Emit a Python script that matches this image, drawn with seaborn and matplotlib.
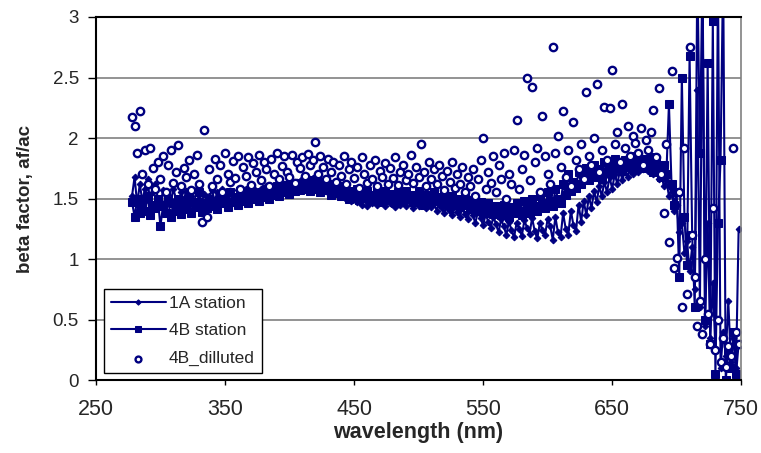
import numpy as np
import pandas as pd
import matplotlib
matplotlib.use("Agg")
import matplotlib.pyplot as plt
import seaborn as sns

# ---- data ----
wavelength = list(range(278, 750, 2))

station_1A = [
    1.52, 1.68, 1.45, 1.62, 1.48, 1.58, 1.66, 1.47, 1.55, 1.62,
    1.50, 1.44, 1.57, 1.48, 1.53, 1.46, 1.58, 1.50, 1.45, 1.55,
    1.49, 1.56, 1.47, 1.52, 1.44, 1.58, 1.50, 1.47, 1.54, 1.46,
    1.52, 1.57, 1.48, 1.55, 1.50, 1.58, 1.52, 1.47, 1.56, 1.53,
    1.50, 1.57, 1.53, 1.49, 1.58, 1.54, 1.51, 1.59, 1.55, 1.52,
    1.58, 1.55, 1.60, 1.54, 1.59, 1.56, 1.62, 1.57, 1.60, 1.58,
    1.63, 1.59, 1.62, 1.57, 1.64, 1.60, 1.66, 1.58, 1.63, 1.61,
    1.67, 1.60, 1.64, 1.58, 1.62, 1.56, 1.60, 1.55, 1.59, 1.54,
    1.57, 1.52, 1.56, 1.50, 1.54, 1.48, 1.53, 1.47, 1.51, 1.45,
    1.50, 1.44, 1.49, 1.46, 1.52, 1.45, 1.50, 1.47, 1.44, 1.51,
    1.46, 1.50, 1.43, 1.48, 1.45, 1.51, 1.44, 1.49, 1.46, 1.42,
    1.48, 1.44, 1.50, 1.45, 1.42, 1.48, 1.43, 1.47, 1.40, 1.46,
    1.42, 1.38, 1.45, 1.40, 1.36, 1.44, 1.39, 1.35, 1.42, 1.37,
    1.33, 1.41, 1.36, 1.30, 1.39, 1.34, 1.28, 1.37, 1.31, 1.26,
    1.35, 1.29, 1.22, 1.33, 1.27, 1.20, 1.31, 1.24, 1.18, 1.30,
    1.25, 1.19, 1.32, 1.26, 1.21, 1.34, 1.23, 1.17, 1.30, 1.24,
    1.20, 1.33, 1.27, 1.16, 1.35, 1.22, 1.18, 1.38, 1.25, 1.20,
    1.40, 1.28, 1.23, 1.45, 1.31, 1.48, 1.36, 1.52, 1.42, 1.56,
    1.47, 1.60, 1.52, 1.64, 1.55, 1.68, 1.58, 1.70, 1.62, 1.73,
    1.65, 1.74, 1.68, 1.77, 1.70, 1.78, 1.72, 1.80, 1.74, 1.79,
    1.73, 1.80, 1.70, 1.76, 1.66, 1.72, 1.60, 1.65, 1.52, 1.58,
    1.40, 1.45, 1.22, 1.30, 1.05, 1.15, 0.90, 1.10, 0.75, 2.40,
    0.60, 3.20, 0.45, 1.30, 0.35, 0.80, 0.25, 3.30, 0.10, 0.40,
    0.20, 0.65, 0.15, 0.35, 0.10, 1.25,
]

station_4B = [
    1.47, 1.35, 1.50, 1.38, 1.46, 1.40, 1.52, 1.36, 1.45, 1.42,
    1.50, 1.27, 1.44, 1.38, 1.48, 1.35, 1.46, 1.40, 1.50, 1.37,
    1.45, 1.41, 1.52, 1.38, 1.47, 1.43, 1.55, 1.39, 1.46, 1.42,
    1.50, 1.44, 1.48, 1.41, 1.53, 1.46, 1.50, 1.43, 1.55, 1.47,
    1.51, 1.45, 1.56, 1.48, 1.52, 1.46, 1.57, 1.50, 1.54, 1.48,
    1.55, 1.51, 1.58, 1.50, 1.56, 1.53, 1.60, 1.52, 1.58, 1.55,
    1.61, 1.54, 1.60, 1.56, 1.63, 1.57, 1.61, 1.58, 1.65, 1.56,
    1.62, 1.58, 1.64, 1.55, 1.60, 1.57, 1.62, 1.53, 1.58, 1.55,
    1.60, 1.52, 1.57, 1.54, 1.50, 1.56, 1.52, 1.58, 1.49, 1.54,
    1.51, 1.56, 1.48, 1.53, 1.50, 1.55, 1.47, 1.52, 1.56, 1.49,
    1.54, 1.50, 1.46, 1.55, 1.51, 1.48, 1.56, 1.50, 1.53, 1.47,
    1.52, 1.56, 1.49, 1.45, 1.53, 1.50, 1.47, 1.55, 1.48, 1.51,
    1.46, 1.53, 1.49, 1.44, 1.52, 1.47, 1.50, 1.43, 1.48, 1.52,
    1.45, 1.41, 1.49, 1.44, 1.40, 1.47, 1.42, 1.38, 1.46, 1.41,
    1.37, 1.44, 1.40, 1.36, 1.45, 1.39, 1.35, 1.43, 1.38, 1.46,
    1.40, 1.36, 1.48, 1.42, 1.38, 1.50, 1.44, 1.40, 1.52, 1.46,
    1.42, 1.55, 1.48, 1.44, 1.58, 1.50, 1.46, 1.62, 1.53, 1.70,
    1.56, 1.64, 1.59, 1.72, 1.62, 1.68, 1.75, 1.65, 1.71, 1.78,
    1.68, 1.74, 1.66, 1.80, 1.72, 1.77, 1.70, 1.83, 1.75, 1.79,
    1.73, 1.82, 1.76, 1.80, 1.74, 1.85, 1.78, 1.81, 1.75, 1.83,
    1.77, 1.84, 1.72, 1.80, 1.74, 1.68, 1.78, 1.70, 2.28, 1.62,
    1.45, 1.55, 0.85, 2.50, 1.35, 0.95, 2.68, 1.20, 0.60, 3.40,
    1.88, 3.40, 0.50, 2.62, 0.30, 2.97, 0.05, 1.30, 1.82, 3.40,
    0.00, 0.25, 0.10, 0.40, 0.05, 0.30,
]

diluted_4B = [
    2.17, 2.10, 1.88, 2.22, 1.70, 1.90, 1.62, 1.92, 1.75, 1.58,
    1.80, 1.66, 1.85, 1.55, 1.78, 1.90, 1.63, 1.72, 1.94, 1.60,
    1.75, 1.68, 1.82, 1.57, 1.70, 1.86, 1.62, 1.31, 2.07, 1.35,
    1.74, 1.60, 1.83, 1.66, 1.78, 1.55, 1.88, 1.70, 1.64, 1.81,
    1.67, 1.85, 1.58, 1.76, 1.69, 1.84, 1.61, 1.79, 1.72, 1.86,
    1.65, 1.80, 1.74, 1.60, 1.83, 1.70, 1.88, 1.66, 1.77, 1.85,
    1.72, 1.68, 1.86, 1.63, 1.80, 1.75, 1.84, 1.69, 1.87, 1.78,
    1.82, 1.97, 1.70, 1.85, 1.76, 1.66, 1.83, 1.72, 1.80, 1.64,
    1.78, 1.69, 1.85, 1.62, 1.74, 1.80, 1.67, 1.76, 1.59, 1.84,
    1.70, 1.63, 1.78, 1.66, 1.82, 1.60, 1.73, 1.68, 1.79, 1.62,
    1.75, 1.67, 1.84, 1.61, 1.72, 1.78, 1.65, 1.70, 1.86, 1.63,
    1.76, 1.68, 1.95, 1.72, 1.60, 1.80, 1.66, 1.74, 1.62, 1.78,
    1.69, 1.57, 1.73, 1.64, 1.80, 1.59, 1.70, 1.62, 1.76, 1.55,
    1.68, 1.60, 1.74, 1.52, 1.66, 1.82, 2.00, 1.58, 1.72, 1.63,
    1.85, 1.55, 1.78, 1.66, 1.88, 1.50, 1.70, 1.62, 1.90, 2.15,
    1.58, 1.74, 1.86, 2.50, 1.65, 2.42, 1.80, 1.92, 1.55, 2.18,
    1.85, 1.70, 1.62, 2.75, 1.88, 2.02, 1.76, 2.22, 1.68, 1.90,
    1.60, 2.13, 1.82, 1.74, 1.95, 1.66, 2.38, 1.85, 1.78, 2.00,
    2.45, 1.72, 1.90, 2.26, 1.82, 2.25, 2.56, 1.95, 2.05, 1.80,
    2.28, 1.92, 2.10, 1.85, 2.02, 1.96, 1.88, 2.08, 1.78, 1.98,
    1.90, 2.05, 2.23, 1.84, 2.41, 1.70, 1.38, 1.95, 1.14, 2.55,
    0.93, 1.01, 1.55, 0.60, 1.92, 0.71, 2.75, 1.20, 0.85, 0.45,
    0.65, 0.38, 1.00, 0.55, 0.30, 1.42, 0.25, 0.50, 0.15, 0.35,
    0.11, 0.28, 0.20, 1.92, 0.40, 0.30,
]

series_names = ["1A station", "4B station", "4B_dilluted"]
x_ticks = [250, 350, 450, 550, 650, 750]
y_ticks = [0, 0.5, 1, 1.5, 2, 2.5, 3]
y_tick_labels = ["0", "0.5", "1", "1.5", "2", "2.5", "3"]

# ---- style ----
sns.set_style("white")
plt.rcParams["font.family"] = ["Liberation Sans", "DejaVu Sans"]
navy = "#000080"

df = pd.DataFrame({
    "wavelength": wavelength * 3,
    "beta": station_1A + station_4B + diluted_4B,
    "series": sum([[n] * len(wavelength) for n in series_names], []),
})

fig = plt.figure(figsize=(7.61, 4.53), dpi=100)
ax = fig.add_axes([0.126, 0.161, 0.848, 0.8015])

d1 = df[df.series == series_names[0]]
d2 = df[df.series == series_names[1]]
d3 = df[df.series == series_names[2]]

sns.lineplot(data=d1, x="wavelength", y="beta", ax=ax, color=navy, lw=1.5,
             marker="D", markersize=3.4, markeredgecolor=navy, markerfacecolor=navy,
             estimator=None, sort=False, label=series_names[0], zorder=3)
sns.lineplot(data=d2, x="wavelength", y="beta", ax=ax, color=navy, lw=1.5,
             marker="s", markersize=5.8, markeredgecolor=navy, markerfacecolor=navy,
             estimator=None, sort=False, label=series_names[1], zorder=4)
sns.scatterplot(data=d3, x="wavelength", y="beta", ax=ax, marker="o", s=28,
                facecolor="white", edgecolor=navy, linewidth=1.7,
                label=series_names[2], zorder=5, clip_on=True)

ax.set_xlim(250, 750)
ax.set_ylim(0, 3)
ax.set_xticks(x_ticks)
ax.set_yticks(y_ticks)
ax.set_yticklabels(y_tick_labels)
ax.tick_params(axis="both", width=1, color="black", direction="out",
               bottom=True, left=True)
ax.tick_params(axis="y", labelsize=13.5, length=5.8, pad=6.5)
ax.tick_params(axis="x", labelsize=15.5, length=3.6, pad=10)

for yv in [0.5, 1, 1.5, 2, 2.5]:
    ax.axhline(yv, color="#808080", lw=1.2, zorder=1)

for side in ["left", "bottom", "top"]:
    ax.spines[side].set_color("black")
    ax.spines[side].set_linewidth(1.5)
ax.spines["right"].set_color("#808080")
ax.spines["right"].set_linewidth(1.2)
for s in ax.spines.values():
    s.set_zorder(6)

ax.set_xlabel("wavelength (nm)", fontsize=15.5, fontweight="bold", labelpad=1.5)
ax.set_ylabel("beta factor, af/ac", fontsize=13.5, fontweight="bold", labelpad=13)

leg = ax.legend(loc="lower left", bbox_to_anchor=(0.012, 0.019), borderaxespad=0,
                fontsize=12.5, frameon=True, fancybox=False, edgecolor="black",
                framealpha=1, handlelength=3.2, labelspacing=0.72,
                borderpad=0.4, handletextpad=0.15, markerscale=0.8)
leg.get_frame().set_linewidth(1.0)
leg.set_zorder(10)

fig.savefig("out.png", dpi=100)
